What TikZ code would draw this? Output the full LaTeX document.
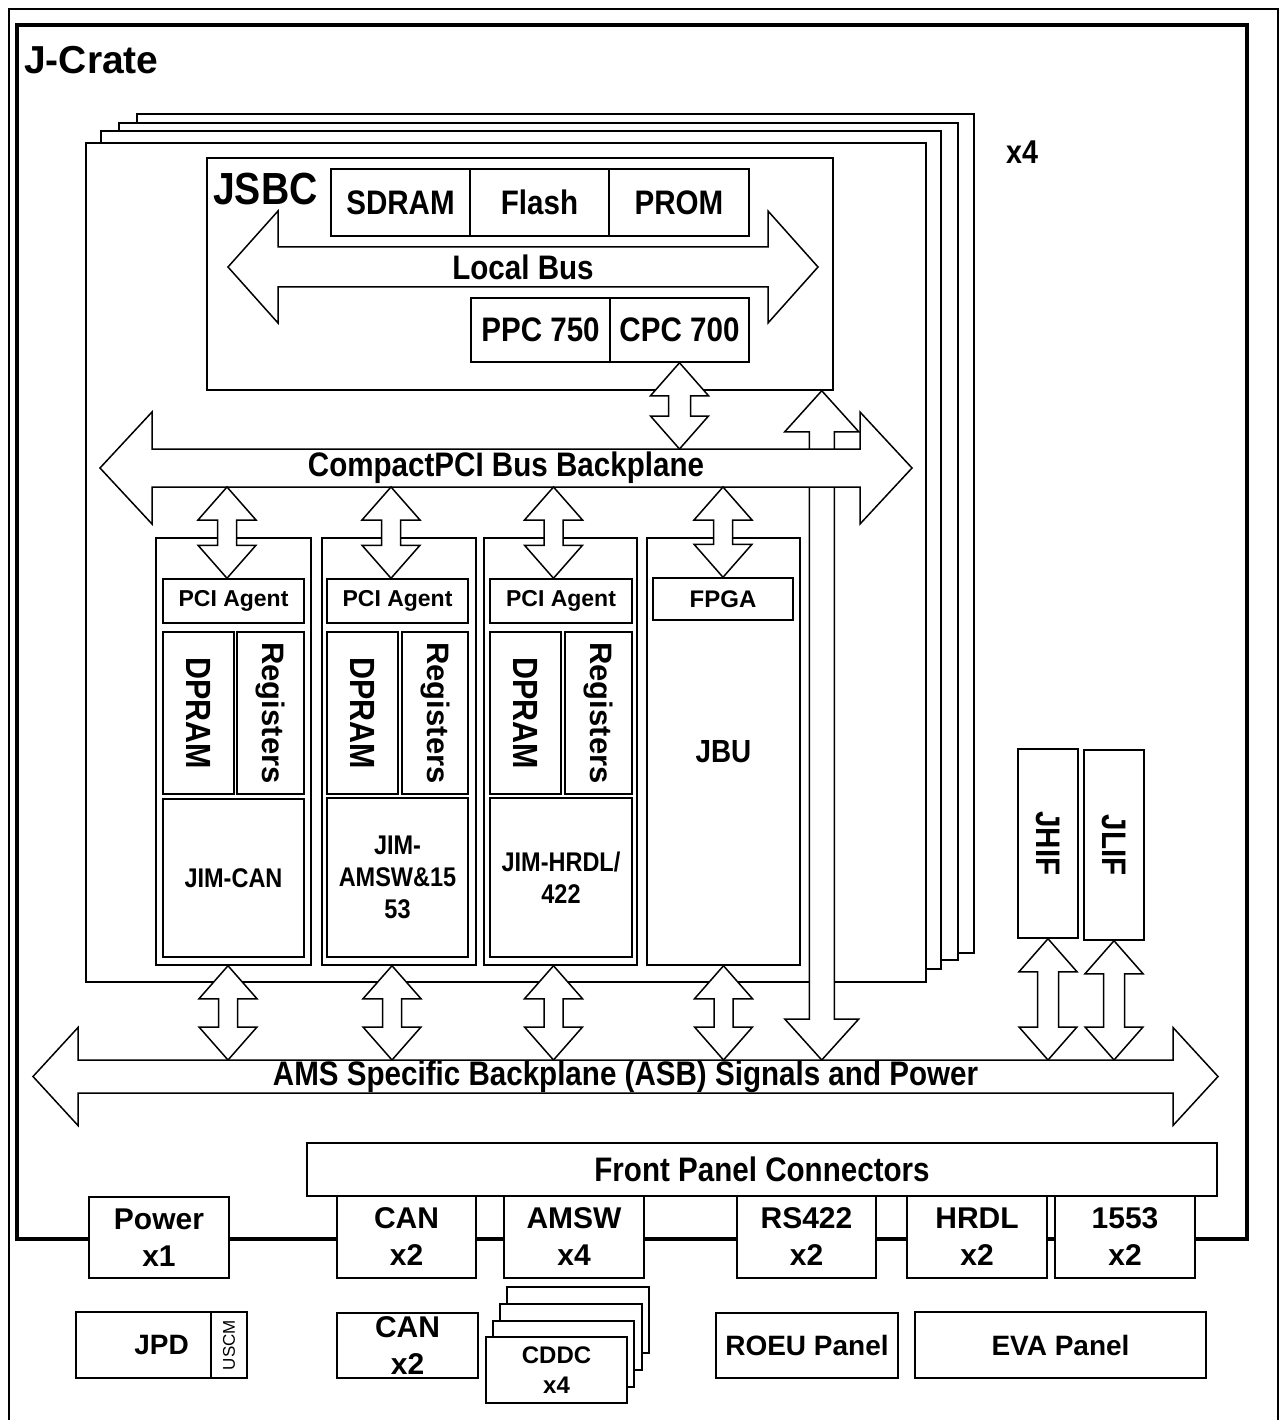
\documentclass[tikz,border=0pt]{standalone}
\usepackage{fontspec}
\usepackage{graphicx}
\usepackage{tikz}
\usetikzlibrary{calc}
\usetikzlibrary{fit}
\setmainfont{Liberation Sans}
\newfontfamily\narrowsf{Liberation Sans}[FakeStretch=0.87]
\tikzstyle{box} = [rectangle, draw=black, line width=1.5, fill=white, inner sep=0pt]
\tikzstyle{board} = [box]
\tikzstyle{cratebox} = [rectangle, draw=black, line width=4.5, inner sep=0pt]
\tikzstyle{chip} = [box, font=\narrowsf\bfseries\fontsize{34}{40}\selectfont]
\tikzstyle{agentbox} = [box, font=\bfseries\fontsize{23}{28}\selectfont]
\tikzstyle{membox} = [box, font=\narrowsf\bfseries\fontsize{35}{40}\selectfont]
\tikzstyle{regbox} = [box, font=\bfseries\fontsize{31}{36}\selectfont]
\tikzstyle{jimbox} = [box, align=center, font=\narrowsf\bfseries\fontsize{27}{32}\selectfont]
\tikzstyle{portbox} = [box, align=center, font=\bfseries\fontsize{30}{37}\selectfont]
\tikzstyle{panelbox} = [box, align=center, font=\bfseries\fontsize{28}{34}\selectfont]
\tikzstyle{cddcbox} = [box, align=center, font=\bfseries\fontsize{24}{30}\selectfont]
\tikzstyle{busshaft} = [rectangle, inner sep=0pt, outer sep=0pt]
\tikzstyle{busarrow} = [draw=black, line width=1.5, fill=white]
\tikzstyle{buslabel} = [inner sep=0pt, font=\narrowsf\bfseries\fontsize{34}{40}\selectfont]
\tikzset{dims/.style 2 args={minimum width=#1, minimum height=#2}}
% bus body around a shaft node: #1 node, #2 head length, #3 head overhang
\newcommand{\drawbus}[3]{%
  \draw[busarrow] (#1.north west) -- (#1.north east) -- ++(0,-#3) -- ([xshift=#2]#1.east)
    -- ($(#1.south east)+(0,#3)$) -- (#1.south east) -- (#1.south west) -- ++(0,#3)
    -- ([xshift=-#2]#1.west) -- ($(#1.north west)+(0,-#3)$) -- cycle;}
% vertical two-headed block arrow: #1 upper end, #2 lower end, #3 x offset,
% #4 head length, #5 head half width, #6 shaft half width
\newcommand{\linkv}[6]{%
  \draw[busarrow] let \p1=(#1), \p2=(#2) in
    (\x1+#3pt,\y1) -- (\x1+#3pt+#5pt,\y1-#4pt) -- (\x1+#3pt+#6pt,\y1-#4pt)
    -- (\x1+#3pt+#6pt,\y2+#4pt) -- (\x1+#3pt+#5pt,\y2+#4pt) -- (\x1+#3pt,\y2)
    -- (\x1+#3pt-#5pt,\y2+#4pt) -- (\x1+#3pt-#6pt,\y2+#4pt)
    -- (\x1+#3pt-#6pt,\y1-#4pt) -- (\x1+#3pt-#5pt,\y1-#4pt) -- cycle;}

\begin{document}
\begin{tikzpicture}[x=1pt, y=-1pt]
\useasboundingbox (0,0) rectangle (1281,1420);
% Frames
\draw[line width=2] (9,9) rectangle (1278,1425);
\node[cratebox, fit={(17,25) (1247,1239)}] (crate) {};
\node[anchor=base west, inner sep=0pt, font=\bfseries\fontsize{39}{44}\selectfont] (cratename) at (24,74) {J-Crate};
% Bus shafts (drawn later)
\node[busshaft, dims={490}{40}] (localbus) at (523,267) {};
\node[busshaft, dims={708}{38}] (pcibus) at (506,468) {};
\node[busshaft, dims={1095}{33}] (asb) at (625.5,1076.5) {};
% Stacked boards, back to front
\node[board, fit={(137,114) (974,953)}] (board3) {};
\node[board, fit={(119,123) (958,960)}] (board2) {};
\node[board, fit={(101,131) (941,969)}] (board1) {};
\node[board, fit={(86,143) (926,982)}] (board0) {};
\node[font=\narrowsf\bfseries\fontsize{33}{38}\selectfont] (boardcount) at (1022,152) {x4};
% JSBC
\node[board, fit={(207,158) (833,390)}] (jsbc) {};
\node[anchor=base west, inner sep=0pt, font=\narrowsf\bfseries\fontsize{45}{50}\selectfont] (jsbcname) at (213,205) {JSBC};
\node[chip, dims={139}{67}] (sdram) at (400.5,202.5) {SDRAM};
\node[chip, dims={139}{67}] (flash) at (539.5,202.5) {Flash};
\node[chip, dims={140}{67}] (prom) at (679,202.5) {PROM};
\drawbus{localbus}{50}{36}
\node[buslabel] (localbustext) at (localbus) {Local Bus};
\node[chip, dims={139}{64}] (ppc) at (540.5,330) {PPC 750};
\node[chip, dims={139}{64}] (cpc) at (679.5,330) {CPC 700};
% JSBC links
\linkv{jsbc.south east}{asb.north}{-12}{41}{37}{12.5}
\linkv{cpc.south}{pcibus.north}{0}{33}{29}{11}
% CompactPCI bus
\drawbus{pcibus}{52}{37}
\node[buslabel] (pcibustext) at (pcibus) {CompactPCI Bus Backplane};
% Module 1
\node[board, fit={(156,538) (311,965)}] (mod1) {};
\node[agentbox, dims={141}{44}] (agent1) at (233.5,601) {PCI Agent};
\node[membox, dims={71}{162}] (dpram1) at (198.5,713) {\rotatebox{-90}{DPRAM}};
\node[regbox, dims={67}{162}] (regs1) at (270.5,713) {\rotatebox{-90}{Registers}};
\node[jimbox, dims={141}{158}] (jim1) at (233.5,878) {JIM-CAN};
% Module 2
\node[board, fit={(322,538) (476,965)}] (mod2) {};
\node[agentbox, dims={141}{44}] (agent2) at (397.5,601) {PCI Agent};
\node[membox, dims={71}{162}] (dpram2) at (362.5,713) {\rotatebox{-90}{DPRAM}};
\node[regbox, dims={66}{162}] (regs2) at (435,713) {\rotatebox{-90}{Registers}};
\node[jimbox, dims={141}{159}] (jim2) at (397.5,877.5) {JIM-\\AMSW\&15\\53};
% Module 3
\node[board, fit={(484,538) (637,965)}] (mod3) {};
\node[agentbox, dims={142}{44}] (agent3) at (561,601) {PCI Agent};
\node[membox, dims={71}{162}] (dpram3) at (525.5,713) {\rotatebox{-90}{DPRAM}};
\node[regbox, dims={67}{162}] (regs3) at (598.5,713) {\rotatebox{-90}{Registers}};
\node[jimbox, dims={142}{159}] (jim3) at (561,877.5) {JIM-HRDL/\\422};
% Module 4
\node[board, dims={153}{427}, font=\narrowsf\bfseries\fontsize{32}{36}\selectfont] (mod4) at (723.5,751.5) {JBU};
\node[agentbox, dims={140}{42}, font=\bfseries\fontsize{24}{28}\selectfont] (fpga) at (723,599) {FPGA};
% Module links
\linkv{pcibus.south -| agent1.north}{agent1.north}{-6.5}{33}{29}{9.5}
\linkv{pcibus.south -| agent2.north}{agent2.north}{-6.5}{33}{29}{9.5}
\linkv{pcibus.south -| agent3.north}{agent3.north}{-7.5}{33}{29}{9.5}
\linkv{pcibus.south -| fpga.north}{fpga.north}{0}{33}{29}{9.5}
\linkv{mod1.south}{asb.north}{-5.5}{33}{29}{9.5}
\linkv{mod2.south}{asb.north}{-7}{33}{29}{9.5}
\linkv{mod3.south}{asb.north}{-7}{33}{29}{9.5}
\linkv{mod4.south}{asb.north}{0}{33}{29}{9.5}
% Interface boards
\node[membox, dims={60}{189}, font=\narrowsf\bfseries\fontsize{34}{40}\selectfont] (jhif) at (1048,843.5) {\rotatebox{-90}{JHIF}};
\node[membox, dims={60}{190}, font=\narrowsf\bfseries\fontsize{34}{40}\selectfont] (jlif) at (1114,845) {\rotatebox{-90}{JLIF}};
\linkv{jhif.south}{asb.north}{0}{33}{29}{10.5}
\linkv{jlif.south}{asb.north}{0}{33}{29}{10.5}
% ASB
\drawbus{asb}{45}{32.5}
\node[buslabel] (asbtext) at (asb) {AMS Specific Backplane (ASB) Signals and Power};
% Front panel
\node[chip, dims={910}{53}] (fpc) at (762,1169.5) {Front Panel Connectors};
\node[portbox, dims={140}{81}] (power) at (159,1237.5) {Power\\x1};
\node[portbox, dims={139}{82}] (can) at (406.5,1237) {CAN\\x2};
\node[portbox, dims={140}{82}] (amsw) at (574,1237) {AMSW\\x4};
\node[portbox, dims={139}{82}] (rs422) at (806.5,1237) {RS422\\x2};
\node[portbox, dims={140}{82}] (hrdl) at (977,1237) {HRDL\\x2};
\node[portbox, dims={140}{82}] (milbus) at (1125,1237) {1553\\x2};
% Outside the crate
\node[panelbox, dims={171}{66}] (jpd) at (161.5,1345) {JPD};
\node[box, dims={36}{66}, font=\fontsize{17}{20}\selectfont] (uscm) at (229,1345) {\rotatebox{90}{USCM}};
\node[portbox, dims={141}{65}] (canpanel) at (407.5,1345.5) {CAN\\x2};
\node[box, fit={(507,1287) (649,1353)}] (cddc3) {};
\node[box, fit={(500,1304) (642,1370)}] (cddc2) {};
\node[box, fit={(493,1321) (634,1387)}] (cddc1) {};
\node[cddcbox, dims={141}{66}] (cddc0) at (556.5,1370) {CDDC\\x4};
\node[panelbox, dims={182}{65}] (roeu) at (807,1345.5) {ROEU Panel};
\node[panelbox, dims={291}{66}] (eva) at (1060.5,1345) {EVA Panel};
\end{tikzpicture}
\end{document}
